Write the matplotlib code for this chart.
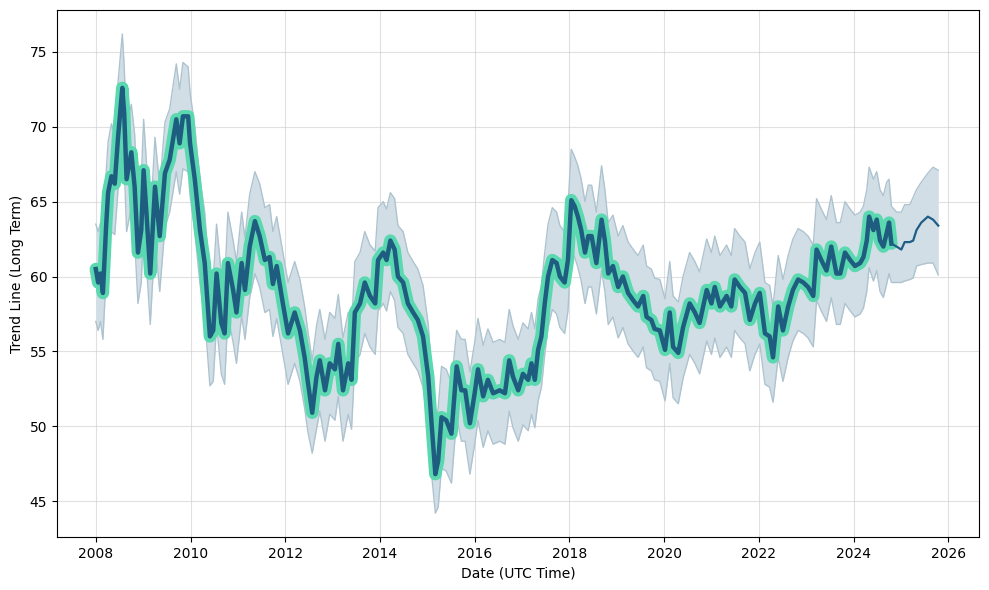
import matplotlib

matplotlib.use("Agg")
import matplotlib.pyplot as plt
import numpy as np

# Decimal years of the fitted (historic) trend
hist_t = [
    2008.00, 2008.05, 2008.10, 2008.15, 2008.22, 2008.26, 2008.33, 2008.40, 2008.47, 2008.56,
    2008.60, 2008.65, 2008.75, 2008.82, 2008.89, 2008.96, 2009.01, 2009.07, 2009.15, 2009.25,
    2009.35, 2009.46, 2009.56, 2009.70, 2009.77, 2009.84, 2009.95, 2009.99, 2010.09, 2010.20,
    2010.30, 2010.41, 2010.48, 2010.55, 2010.65, 2010.72, 2010.79, 2010.90, 2010.97, 2011.08,
    2011.15, 2011.25, 2011.36, 2011.46, 2011.57, 2011.67, 2011.74, 2011.82, 2011.95, 2012.06,
    2012.20, 2012.31, 2012.41, 2012.48, 2012.57, 2012.66, 2012.73, 2012.84, 2012.94, 2013.05,
    2013.12, 2013.22, 2013.33, 2013.40, 2013.47, 2013.58, 2013.68, 2013.79, 2013.90, 2013.96,
    2014.07, 2014.14, 2014.22, 2014.31, 2014.38, 2014.49, 2014.59, 2014.70, 2014.80, 2014.91,
    2015.02, 2015.09, 2015.17, 2015.23, 2015.30, 2015.40, 2015.51, 2015.62, 2015.72, 2015.80,
    2015.90, 2016.00, 2016.07, 2016.18, 2016.28, 2016.39, 2016.53, 2016.64, 2016.73, 2016.81,
    2016.92, 2017.02, 2017.13, 2017.20, 2017.27, 2017.34, 2017.41, 2017.48, 2017.55, 2017.64,
    2017.73, 2017.80, 2017.90, 2017.97, 2018.04, 2018.11, 2018.18, 2018.25, 2018.33, 2018.40,
    2018.47, 2018.57, 2018.68, 2018.75, 2018.82, 2018.92, 2019.03, 2019.13, 2019.24, 2019.35,
    2019.45, 2019.56, 2019.63, 2019.73, 2019.80, 2019.91, 2020.02, 2020.12, 2020.19, 2020.30,
    2020.40, 2020.54, 2020.65, 2020.75, 2020.90, 2021.00, 2021.07, 2021.18, 2021.32, 2021.42,
    2021.49, 2021.60, 2021.71, 2021.81, 2021.92, 2022.02, 2022.13, 2022.23, 2022.30, 2022.41,
    2022.51, 2022.62, 2022.72, 2022.83, 2022.94, 2023.04, 2023.15, 2023.22, 2023.32, 2023.43,
    2023.53, 2023.64, 2023.72, 2023.82, 2023.93, 2024.03, 2024.14, 2024.21, 2024.28, 2024.33,
    2024.42, 2024.49, 2024.56, 2024.63, 2024.70, 2024.75, 2024.80,
]
hist_trend = [
    60.5, 59.6, 60.2, 58.9, 63.5, 65.6, 66.7, 66.2, 69.3, 72.6,
    70.9, 66.5, 68.3, 66.0, 61.6, 63.1, 67.1, 64.2, 60.2, 66.0,
    62.7, 66.9, 67.8, 70.5, 68.9, 70.7, 70.7, 68.9, 66.5, 63.1,
    60.9, 56.0, 56.4, 60.2, 56.9, 56.2, 60.9, 59.1, 57.6, 60.9,
    59.1, 62.0, 63.7, 62.7, 61.1, 61.3, 59.5, 60.7, 58.2, 56.2,
    57.6, 56.4, 54.6, 52.9, 50.9, 53.3, 54.4, 52.4, 54.2, 53.8,
    55.5, 52.4, 54.2, 53.1, 57.6, 58.2, 59.6, 58.7, 58.2, 61.1,
    61.6, 61.1, 62.4, 61.8, 60.0, 59.6, 58.2, 57.6, 57.1, 56.0,
    53.3, 50.2, 46.8, 47.7, 50.6, 50.4, 49.5, 54.0, 52.4, 52.4,
    50.2, 52.2, 53.8, 52.0, 53.1, 52.2, 52.4, 52.2, 54.4, 53.3,
    52.4, 53.5, 53.1, 54.2, 53.1, 55.1, 56.0, 58.2, 60.0, 61.1,
    60.9, 60.0, 59.6, 61.1, 65.1, 64.7, 64.0, 63.1, 61.6, 62.7,
    62.7, 60.9, 63.8, 62.4, 60.2, 60.7, 59.3, 60.0, 58.9, 58.4,
    58.0, 58.7, 57.3, 57.1, 56.5, 56.4, 55.1, 57.6, 55.3, 54.9,
    56.6, 58.2, 57.6, 56.9, 59.1, 58.2, 59.3, 58.0, 58.7, 58.0,
    59.8, 59.3, 58.9, 57.1, 58.2, 58.9, 56.2, 56.0, 54.6, 58.0,
    56.4, 58.0, 59.1, 59.8, 59.6, 59.3, 58.7, 61.8, 61.1, 60.4,
    62.0, 60.2, 60.2, 61.6, 61.1, 60.7, 60.9, 61.3, 62.4, 64.0,
    63.1, 63.8, 62.4, 62.0, 62.9, 63.6, 62.2,
]

# Forecast part of the trend
fc_t = [2024.80, 2024.91, 2025.01, 2025.08, 2025.19, 2025.26, 2025.33, 2025.43, 2025.57, 2025.68, 2025.79]
fc_trend = [62.2, 62.0, 61.8, 62.3, 62.3, 62.4, 63.1, 63.6, 64.0, 63.8, 63.4]

# Uncertainty band (history followed by forecast, sharing hist_t + fc_t[1:])
band_upper = [
    63.5, 63.0, 63.6, 62.5, 67.0, 69.0, 70.2, 69.5, 73.0, 76.2,
    74.0, 70.0, 71.5, 69.5, 65.0, 66.5, 70.5, 67.6, 63.6, 69.3,
    66.0, 70.3, 71.2, 74.2, 72.5, 74.3, 74.0, 72.3, 70.0, 66.5,
    64.3, 59.5, 59.8, 63.5, 60.2, 59.6, 64.3, 62.4, 61.0, 64.3,
    62.6, 65.5, 67.0, 66.2, 64.6, 64.8, 63.0, 64.0, 61.6, 59.6,
    61.0, 59.8, 58.0, 56.3, 54.4, 56.7, 57.8, 55.8, 57.6, 57.2,
    58.8, 55.9, 57.6, 56.5, 61.0, 61.6, 63.0, 62.1, 61.7, 64.6,
    65.0, 64.5, 65.6, 65.2, 63.4, 63.0, 61.6, 61.0, 60.5, 59.4,
    56.8, 53.6, 50.2, 51.2, 54.0, 53.8, 52.9, 56.4, 55.8, 55.8,
    53.6, 55.6, 57.2, 55.4, 56.5, 55.6, 55.8, 55.6, 57.8, 56.7,
    55.8, 56.9, 56.5, 57.6, 56.5, 58.5, 59.4, 61.6, 63.5, 64.6,
    64.3, 63.4, 63.0, 64.6, 68.5, 68.0, 67.4, 66.5, 65.0, 66.1,
    66.1, 64.3, 67.4, 65.8, 63.6, 64.1, 62.7, 63.4, 62.3, 61.8,
    61.4, 62.1, 60.7, 60.5, 59.9, 59.8, 58.5, 61.0, 58.7, 58.3,
    60.0, 61.6, 61.0, 60.3, 62.5, 61.6, 62.7, 61.4, 62.1, 61.4,
    63.2, 62.7, 62.3, 60.5, 61.6, 62.3, 59.6, 59.4, 58.0, 61.4,
    59.8, 61.4, 62.5, 63.2, 63.0, 62.7, 62.1, 65.2, 64.5, 63.8,
    65.4, 63.6, 63.6, 65.0, 64.5, 64.1, 64.3, 64.7, 65.8, 67.3,
    66.5, 67.0, 65.8, 65.4, 66.3, 66.5, 64.7,
    64.3, 64.3, 64.8, 64.8, 65.3, 65.8, 66.3, 66.9, 67.3, 67.1,
]
band_lower = [
    57.0, 56.4, 57.0, 55.8, 60.2, 62.3, 63.0, 62.8, 65.8, 69.2,
    67.4, 63.0, 64.6, 62.5, 58.2, 59.6, 63.5, 60.8, 56.8, 62.5,
    59.0, 63.3, 64.3, 67.0, 65.5, 67.2, 67.0, 65.4, 63.0, 59.5,
    57.3, 52.7, 53.0, 56.8, 53.5, 52.8, 57.4, 55.6, 54.2, 57.4,
    55.8, 58.6, 60.2, 59.3, 57.6, 57.8, 56.0, 57.2, 54.8, 52.8,
    54.2, 53.0, 51.2, 49.6, 48.2, 49.8, 51.0, 49.0, 50.8, 50.4,
    52.0, 49.0, 50.8, 49.8, 54.2, 54.8, 56.2, 55.3, 54.8, 57.7,
    58.2, 57.7, 59.0, 58.4, 56.6, 56.2, 54.8, 54.2, 53.7, 52.6,
    49.9, 46.8, 44.2, 44.6, 47.2, 47.0, 46.2, 50.6, 49.0, 49.0,
    46.8, 48.8, 50.4, 48.6, 49.7, 48.8, 49.0, 48.8, 51.0, 49.9,
    49.0, 50.1, 49.7, 50.8, 49.9, 51.7, 52.6, 54.8, 56.6, 57.8,
    57.5, 56.6, 56.2, 57.7, 61.7, 61.3, 60.6, 59.7, 58.2, 59.3,
    59.3, 57.5, 60.4, 59.0, 56.8, 57.3, 55.9, 56.6, 55.5, 55.0,
    54.6, 55.3, 53.9, 53.7, 53.1, 53.0, 51.7, 54.2, 51.9, 51.5,
    53.2, 54.8, 54.2, 53.5, 55.7, 54.8, 55.9, 54.6, 55.3, 54.6,
    56.4, 55.9, 55.5, 53.7, 54.8, 55.5, 52.8, 52.6, 51.6, 54.6,
    53.0, 54.6, 55.7, 56.4, 56.2, 55.9, 55.3, 58.4, 57.7, 57.0,
    58.6, 56.8, 56.8, 58.2, 57.7, 57.3, 57.5, 57.9, 59.0, 60.6,
    59.7, 60.4, 59.0, 58.6, 59.5, 60.2, 59.6,
    59.6, 59.6, 59.7, 59.8, 59.9, 60.7, 60.8, 60.9, 60.9, 60.1,
]

year_ticks = [2008, 2010, 2012, 2014, 2016, 2018, 2020, 2022, 2024, 2026]


def main():
    band_t = np.array(hist_t + fc_t[1:])

    fig, ax = plt.subplots(figsize=(9.89, 5.9), dpi=100)

    ax.fill_between(band_t, band_lower, band_upper, color="#d2dee6", linewidth=0)
    ax.plot(band_t, band_upper, color="#aec3d0", linewidth=1.0)
    ax.plot(band_t, band_lower, color="#aec3d0", linewidth=1.0)

    # glow + trend for the historic part
    ax.plot(hist_t, hist_trend, color="#5ad8b0", linewidth=9,
            solid_capstyle="round", solid_joinstyle="round")
    ax.plot(hist_t, hist_trend, color="#1f5d80", linewidth=3.2)
    # forecast
    ax.plot(fc_t, fc_trend, color="#1f5d86", linewidth=1.6)

    ax.set_xlim(2007.18, 2026.65)
    ax.set_ylim(42.6, 77.8)
    ax.set_xticks(year_ticks)
    ax.set_xticklabels([str(y) for y in year_ticks])
    ax.set_yticks([45, 50, 55, 60, 65, 70, 75])
    ax.grid(True, color="#cccccc", alpha=0.6, linewidth=0.8)
    ax.set_axisbelow(True)

    ax.set_xlabel("Date (UTC Time)")
    ax.set_ylabel("Trend Line (Long Term)")

    fig.subplots_adjust(left=0.0576, right=0.9899, top=0.983, bottom=0.0898)
    fig.savefig("out.png", dpi=100)


if __name__ == "__main__":
    main()
